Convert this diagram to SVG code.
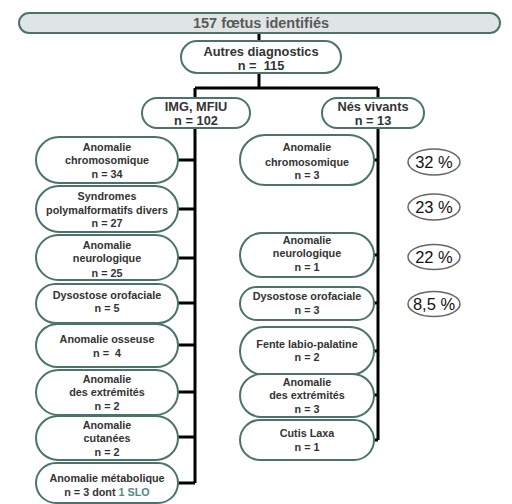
<svg xmlns="http://www.w3.org/2000/svg" width="512" height="504" viewBox="0 0 512 504">
<style>
.box{fill:#ffffff;stroke:#4b736c;stroke-width:2}
.top{fill:#dfe5e4;stroke:#4b736c;stroke-width:2}
.t{font-family:"Liberation Sans",Arial,sans-serif;font-weight:bold;font-size:10.8px;fill:#333;text-anchor:middle}
.h{font-family:"Liberation Sans",Arial,sans-serif;font-weight:bold;font-size:12.8px;fill:#333;text-anchor:middle}
.pc{fill:#ffffff;stroke:#666;stroke-width:1.5}
.p{font-family:"Liberation Sans",Arial,sans-serif;font-size:16.5px;fill:#111;text-anchor:middle}
.c{stroke:#000;stroke-width:3;fill:none}
</style>
<rect width="512" height="504" fill="#ffffff"/>
<g id="connectors">
<path class="c" d="M259 33V41M259 73V88M195 88H378M195 88V98M378 88V98M195 128V483M378 128V440"/>
<path class="c" d="M178 160H195M178 209H195M178 258H195M178 303H195M178 345H195M178 392H195M178 437H195M178 483H195"/>
<path class="c" d="M374 160H378M374 255H378M374 303H378M374 351H378M374 395H378M374 440H378"/>
</g>
<g id="n-top"><rect class="top" x="19" y="13" width="481" height="20" rx="10"/><text class="h" x="261" y="28" style="fill:#5a5a5a;font-size:14.5px">157 fœtus identifiés</text></g>
<g id="n-autres"><rect class="box" x="181" y="41" width="160" height="32" rx="16"/><text class="h" x="261" y="56">Autres diagnostics</text><text class="h" x="261" y="70">n =&#160; 115</text></g>
<g id="n-img"><rect class="box" x="142" y="98" width="108" height="30" rx="15"/><text class="h" x="196" y="111">IMG, MFIU</text><text class="h" x="196" y="125">n = 102</text></g>
<g id="n-nes"><rect class="box" x="322" y="98" width="102" height="30" rx="15"/><text class="h" x="373" y="111">Nés vivants</text><text class="h" x="373" y="125">n = 13</text></g>

<g id="l1"><rect class="box" x="36" y="137" width="142" height="46" rx="23"/><text class="t" x="107" y="150.5">Anomalie</text><text class="t" x="107" y="164">chromosomique</text><text class="t" x="107" y="178">n = 34</text></g>
<g id="l2"><rect class="box" x="36" y="186" width="142" height="46" rx="23"/><text class="t" x="107" y="200">Syndromes</text><text class="t" x="107" y="214">polymalformatifs divers</text><text class="t" x="107" y="227">n = 27</text></g>
<g id="l3"><rect class="box" x="36" y="235" width="142" height="45" rx="22.5"/><text class="t" x="107" y="249">Anomalie</text><text class="t" x="107" y="262">neurologique</text><text class="t" x="107" y="276.5">n = 25</text></g>
<g id="l4"><rect class="box" x="36" y="284" width="142" height="39" rx="19.5"/><text class="t" x="107" y="299">Dysostose orofaciale</text><text class="t" x="107" y="312">n = 5</text></g>
<g id="l5"><rect class="box" x="36" y="324" width="142" height="43" rx="21.5"/><text class="t" x="107" y="343">Anomalie osseuse</text><text class="t" x="107" y="357">n =&#160; 4</text></g>
<g id="l6"><rect class="box" x="36" y="370" width="142" height="45" rx="22.5"/><text class="t" x="107" y="383">Anomalie</text><text class="t" x="107" y="396">des extrémités</text><text class="t" x="107" y="410">n = 2</text></g>
<g id="l7"><rect class="box" x="36" y="416" width="142" height="44" rx="22"/><text class="t" x="107" y="429">Anomalie</text><text class="t" x="107" y="442">cutanées</text><text class="t" x="107" y="456">n = 2</text></g>
<g id="l8"><rect class="box" x="36" y="463" width="142" height="40" rx="20"/><text class="t" x="107" y="482">Anomalie métabolique</text><text class="t" x="107" y="496">n = 3 dont <tspan style="fill:#4f8a86">1 SLO</tspan></text></g>

<g id="r1"><rect class="box" x="240" y="135" width="134" height="50" rx="25"/><text class="t" x="307" y="151">Anomalie</text><text class="t" x="307" y="165.5">chromosomique</text><text class="t" x="307" y="179">n = 3</text></g>
<g id="r2"><rect class="box" x="240" y="233" width="134" height="44" rx="22"/><text class="t" x="307" y="244">Anomalie</text><text class="t" x="307" y="257">neurologique</text><text class="t" x="307" y="271">n = 1</text></g>
<g id="r3"><rect class="box" x="240" y="287" width="134" height="33" rx="16.5"/><text class="t" x="307" y="300">Dysostose orofaciale</text><text class="t" x="307" y="314">n = 3</text></g>
<g id="r4"><rect class="box" x="240" y="327" width="134" height="48" rx="24"/><text class="t" x="307" y="348">Fente labio-palatine</text><text class="t" x="307" y="361">n = 2</text></g>
<g id="r5"><rect class="box" x="240" y="374" width="134" height="43" rx="21.5"/><text class="t" x="307" y="386">Anomalie</text><text class="t" x="307" y="399">des extrémités</text><text class="t" x="307" y="413">n = 3</text></g>
<g id="r6"><rect class="box" x="240" y="420" width="134" height="40" rx="20"/><text class="t" x="307" y="437">Cutis Laxa</text><text class="t" x="307" y="451">n = 1</text></g>

<g id="p32"><ellipse class="pc" cx="434" cy="162" rx="26" ry="13"/><text class="p" x="434" y="168">32 %</text></g>
<g id="p23"><ellipse class="pc" cx="434" cy="207" rx="26" ry="13"/><text class="p" x="434" y="213">23 %</text></g>
<g id="p22"><ellipse class="pc" cx="434" cy="257" rx="26" ry="12.5"/><text class="p" x="434" y="263">22 %</text></g>
<g id="p85"><ellipse class="pc" cx="434" cy="304" rx="26" ry="12.5"/><text class="p" x="434" y="310">8,5 %</text></g>
</svg>
